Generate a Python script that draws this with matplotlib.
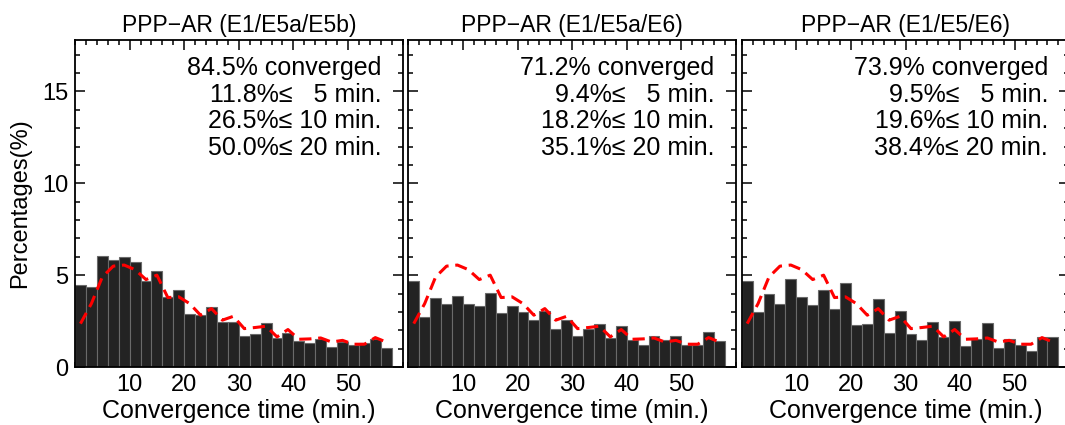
import matplotlib
matplotlib.use('Agg')
import matplotlib.pyplot as plt
from matplotlib.ticker import MultipleLocator
import numpy as np

plt.rcParams['font.family'] = ['Liberation Sans', 'DejaVu Sans']

# bin left edges (2-min bins, 0..58)
bin_edges = list(range(0, 58, 2))

titles = ["PPP\u2212AR (E1/E5a/E5b)", "PPP\u2212AR (E1/E5a/E6)", "PPP\u2212AR (E1/E5/E6)"]

# histogram percentages per panel
hist_e5b = [4.49, 4.33, 6.04, 5.85, 5.98, 5.71, 4.69, 5.24, 3.82, 4.18,
            2.91, 2.82, 3.24, 2.44, 2.47, 1.67, 1.80, 2.40, 1.60, 1.85,
            1.40, 1.33, 1.53, 1.09, 1.38, 1.20, 1.31, 1.53, 1.02]
hist_e5a_e6 = [4.69, 2.73, 3.73, 3.45, 3.87, 3.42, 3.33, 4.05, 2.96, 3.33,
               3.02, 2.56, 3.05, 2.07, 2.55, 1.67, 2.07, 2.36, 1.58, 2.22,
               1.45, 1.22, 1.69, 1.49, 1.69, 1.20, 1.20, 1.93, 1.40]
hist_e5_e6 = [4.69, 3.00, 3.95, 3.45, 4.78, 3.82, 3.36, 4.18, 3.13, 4.55,
              2.31, 2.35, 3.69, 1.87, 3.04, 1.78, 1.49, 2.45, 1.64, 2.53,
              1.15, 1.53, 2.38, 1.05, 1.51, 1.22, 0.87, 1.64, 1.64]

# reference curve (red dashed), same in every panel, at bin centres
ref_curve = [2.36, 3.45, 4.90, 5.49, 5.55, 5.30, 4.76, 5.00, 3.78, 3.82,
             3.45, 2.82, 3.18, 2.55, 2.76, 2.09, 2.15, 2.22, 1.64, 2.04,
             1.51, 1.53, 1.58, 1.36, 1.45, 1.24, 1.24, 1.60, 1.36]

conv_pct = ["84.5", "71.2", "73.9"]
le5 = ["11.8", "9.4", "9.5"]
le10 = ["26.5", "18.2", "19.6"]
le20 = ["50.0", "35.1", "38.4"]

W, H = 1065, 425
fig = plt.figure(figsize=(W / 100, H / 100), dpi=100)

lefts = [75, 408.3, 741.7]
aw, ah = 327.6, 327
bottom = 425 - 367

all_hist = [hist_e5b, hist_e5a_e6, hist_e5_e6]
centres = np.array(bin_edges) + 1

for i in range(3):
    ax = fig.add_axes([lefts[i] / W, bottom / H, aw / W, ah / H])
    ax.bar(bin_edges, all_hist[i], width=2, align='edge', color='#232323',
           edgecolor='#6a6a6a', linewidth=0.8, zorder=2)
    ax.plot(centres, ref_curve, color='red', linestyle=(0, (4, 2.2)),
            linewidth=2.2, zorder=3)

    ax.set_xlim(0, 60)
    ax.set_ylim(0, 17.8)
    ax.xaxis.set_major_locator(MultipleLocator(10))
    ax.xaxis.set_minor_locator(MultipleLocator(2))
    ax.yaxis.set_major_locator(MultipleLocator(5))
    ax.yaxis.set_minor_locator(MultipleLocator(1))
    ax.tick_params(which='both', direction='in', top=True, right=True,
                   width=1.1, labelsize=17)
    ax.tick_params(which='major', length=7, pad=5)
    ax.tick_params(which='minor', length=3.5)
    ax.set_xticks([10, 20, 30, 40, 50])
    ax.set_xticklabels(['10', '20', '30', '40', '50'])
    if i == 0:
        ax.set_yticks([0, 5, 10, 15])
        ax.set_ylabel("Percentages(%)", fontsize=17, labelpad=8)
    else:
        ax.set_yticklabels([])
    for sp in ax.spines.values():
        sp.set_linewidth(1.3)

    ax.set_xlabel("Convergence time (min.)", fontsize=18, labelpad=2)
    ax.set_title(titles[i], fontsize=16.5, pad=6)

    tx = 0.935
    ax.text(tx, 0.893, conv_pct[i] + "% converged", transform=ax.transAxes,
            ha='right', va='baseline', fontsize=18)
    lines = [(le5[i], "  5"), (le10[i], "10"), (le20[i], "20")]
    for j, (p, m) in enumerate(lines):
        ax.text(tx, 0.893 - 0.0816 * (j + 1), p + "%\u2264 " + m + " min.",
                transform=ax.transAxes, ha='right', va='baseline', fontsize=18)

fig.savefig("out.png", dpi=100)
